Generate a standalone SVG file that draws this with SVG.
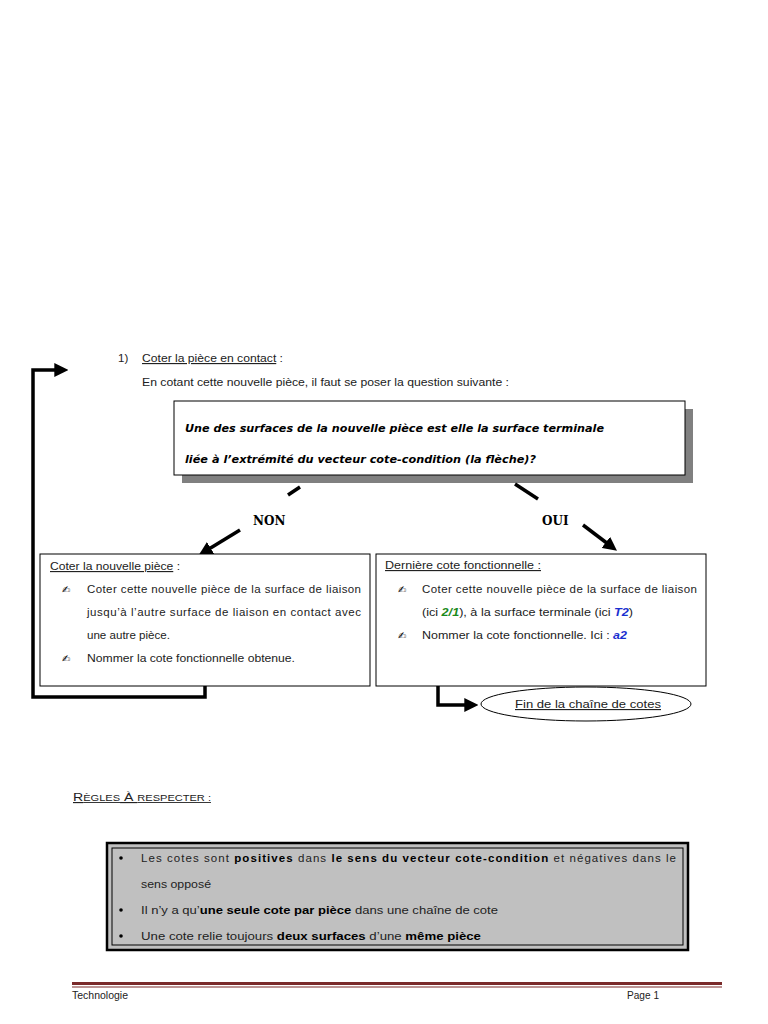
<svg xmlns="http://www.w3.org/2000/svg" width="768" height="1024" viewBox="0 0 768 1024">
<defs>
<style>
.t{font-family:"Liberation Sans",Arial,sans-serif;font-size:11.5px;fill:#222}
.q{font-family:"DejaVu Sans","Liberation Sans",sans-serif;font-size:10.5px;font-weight:bold;font-style:italic;fill:#000}
.lbl{font-family:"DejaVu Serif","Liberation Serif",serif;font-size:12px;font-weight:bold;fill:#000}
.box{fill:#fff;stroke:#000;stroke-width:1}
.con{fill:none;stroke:#000;stroke-width:3.5}
.u{text-decoration:underline}
.b{font-weight:bold;fill:#000}
.pen{font-family:"DejaVu Sans",sans-serif;font-size:10px;fill:#000}
</style>
<marker id="ah" markerWidth="4" markerHeight="4" refX="2.2" refY="2" orient="auto" markerUnits="strokeWidth">
<path d="M0,0 L4,2 L0,4 z" fill="#000"/>
</marker>
</defs>
<rect width="768" height="1024" fill="#fff"/>

<g id="header">
<text class="t" x="118" y="362">1)</text>
<text class="t" x="142" y="362" textLength="141" lengthAdjust="spacingAndGlyphs"><tspan class="u">Coter la pièce en contact</tspan> :</text>
<text class="t" x="142" y="386" textLength="367" lengthAdjust="spacingAndGlyphs">En cotant cette nouvelle pièce, il faut se poser la question suivante :</text>
</g>

<g id="question">
<rect x="182" y="409" width="511" height="74" fill="#808080"/>
<rect class="box" x="174" y="401" width="511" height="74"/>
<text class="q" x="185" y="432" textLength="419" lengthAdjust="spacingAndGlyphs">Une des surfaces de la nouvelle pièce est elle la surface terminale</text>
<text class="q" x="185" y="463" textLength="351" lengthAdjust="spacingAndGlyphs">liée à l’extrémité du vecteur cote-condition (la flèche)?</text>
</g>

<g id="connectors">
<path class="con" d="M205,686 V697 H33 V370 H62" marker-end="url(#ah)"/>
<path class="con" d="M300,487 L288,495"/>
<path class="con" d="M515,484 L538,499"/>
<path class="con" d="M240,530 L204,552" marker-end="url(#ah)"/>
<path class="con" d="M583,525 L612,547" marker-end="url(#ah)"/>
<path class="con" d="M438,686 V705 H472" marker-end="url(#ah)"/>
</g>

<g id="labels">
<text class="lbl" x="253" y="525">NON</text>
<text class="lbl" x="542" y="525">OUI</text>
</g>

<g id="non-box">
<rect class="box" x="40" y="554" width="330" height="132"/>
<text class="t" x="50" y="570" textLength="130" lengthAdjust="spacingAndGlyphs"><tspan class="u">Coter la nouvelle pièce</tspan> :</text>
<text class="pen" x="62" y="593">✍︎</text>
<text class="t" x="87" y="593" textLength="274" lengthAdjust="spacing">Coter cette nouvelle pièce de la surface de liaison</text>
<text class="t" x="87" y="616" textLength="274" lengthAdjust="spacing">jusqu’à l’autre surface de liaison en contact avec</text>
<text class="t" x="87" y="639" textLength="83" lengthAdjust="spacingAndGlyphs">une autre pièce.</text>
<text class="pen" x="62" y="662">✍︎</text>
<text class="t" x="87" y="662" textLength="208" lengthAdjust="spacingAndGlyphs">Nommer la cote fonctionnelle obtenue.</text>
</g>

<g id="oui-box">
<rect class="box" x="376" y="554" width="330" height="132"/>
<text class="t" x="385" y="569" textLength="156" lengthAdjust="spacingAndGlyphs"><tspan class="u">Dernière cote fonctionnelle :</tspan></text>
<text class="pen" x="398" y="593">✍︎</text>
<text class="t" x="422" y="593" textLength="275" lengthAdjust="spacing">Coter cette nouvelle pièce de la surface de liaison</text>
<text class="t" x="422" y="616" textLength="211" lengthAdjust="spacingAndGlyphs">(ici <tspan font-weight="bold" font-style="italic" fill="#1a8a1a">2/1</tspan>), à la surface terminale (ici <tspan font-weight="bold" font-style="italic" fill="#1a2fd0">T2</tspan>)</text>
<text class="pen" x="398" y="639">✍︎</text>
<text class="t" x="422" y="639" textLength="205" lengthAdjust="spacingAndGlyphs">Nommer la cote fonctionnelle. Ici : <tspan font-weight="bold" font-style="italic" fill="#1a2fd0">a2</tspan></text>
</g>

<g id="end">
<ellipse cx="586" cy="704" rx="105" ry="17" fill="#fff" stroke="#000" stroke-width="1"/>
<text class="t u" x="515" y="708" textLength="146" lengthAdjust="spacingAndGlyphs">Fin de la chaîne de cotes</text>
</g>

<g id="rules-title">
<text class="t u" x="73" y="801" textLength="138" lengthAdjust="spacingAndGlyphs">R<tspan font-size="9px">ÈGLES</tspan> À <tspan font-size="9px">RESPECTER :</tspan></text>
</g>

<g id="rules">
<rect x="107" y="843" width="581" height="107" fill="#c0c0c0" stroke="#000" stroke-width="2.5"/>
<rect x="112" y="848" width="571" height="97" fill="none" stroke="#000" stroke-width="1"/>
<circle cx="121" cy="858" r="1.8" fill="#000"/>
<circle cx="121" cy="910" r="1.8" fill="#000"/>
<circle cx="121" cy="936" r="1.8" fill="#000"/>
<text class="t" x="141" y="862" textLength="535" lengthAdjust="spacing">Les cotes sont <tspan class="b">positives</tspan> dans <tspan class="b">le sens du vecteur cote-condition</tspan> et négatives dans le</text>
<text class="t" x="141" y="888" textLength="70" lengthAdjust="spacingAndGlyphs">sens opposé</text>
<text class="t" x="141" y="914" textLength="357" lengthAdjust="spacingAndGlyphs">Il n’y a qu’<tspan class="b">une seule cote par pièce</tspan> dans une chaîne de cote</text>
<text class="t" x="141" y="940" textLength="340" lengthAdjust="spacingAndGlyphs">Une cote relie toujours <tspan class="b">deux surfaces</tspan> d’une <tspan class="b">même pièce</tspan></text>
</g>

<g id="footer">
<rect x="72" y="982" width="650" height="3" fill="#7a2a2a"/>
<rect x="72" y="986.5" width="650" height="1" fill="#7a2a2a"/>
<text class="t" x="72" y="999" font-size="9px" textLength="56" lengthAdjust="spacingAndGlyphs">Technologie</text>
<text class="t" x="627" y="999" font-size="9px" textLength="32" lengthAdjust="spacingAndGlyphs">Page 1</text>
</g>
</svg>
